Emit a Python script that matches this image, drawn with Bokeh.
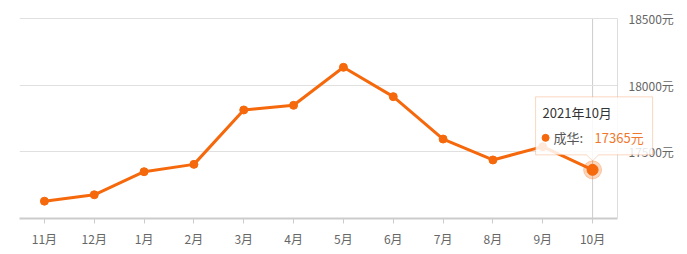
from bokeh.plotting import figure
from bokeh.models import Range1d, FixedTicker, Span, Label, PolyAnnotation, CustomJSTickFormatter
from bokeh.embed import file_html
from bokeh.resources import INLINE

# ---- data ----
months = ["11月", "12月", "1月", "2月", "3月", "4月", "5月", "6月", "7月", "8月", "9月", "10月"]
prices = [17130, 17178, 17351, 17406, 17814, 17849, 18134, 17914, 17596, 17439, 17539, 17365]
y_ticks = [17000, 17500, 18000, 18500]
series_name = "成华"
tooltip_title = "2021年10月"
unit = "元"

# ---- style ----
W, H = 687, 254
L, B = 19, 36
PLOT_RIGHT = 617          # pixel where the category band ends (right axis line)
PLOT_TOP = 18             # pixel of the top gridline
ORANGE = "#f5690c"
FONT = "Noto Sans CJK SC"
Y0, Y1 = y_ticks[0], y_ticks[-1]

n = len(months)
FW = W - L
FH = H - B                 # frame spans from the top of the canvas
band_h = FH - PLOT_TOP
cw = (PLOT_RIGHT - L) / n
xs = [i + 0.5 for i in range(n)]
y_top = Y1 + PLOT_TOP * (Y1 - Y0) / band_h

p = figure(x_range=Range1d(0, FW / cw), y_range=Range1d(Y0, y_top),
           width=W, height=H, output_backend="svg", toolbar_location=None,
           y_axis_location="right",
           min_border_left=L, min_border_right=0, min_border_top=0, min_border_bottom=B)
p.outline_line_color = None
p.background_fill_color = "white"
p.border_fill_color = "white"

# y axis, drawn at the right end of the category band
p.yaxis.fixed_location = n
p.yaxis.bounds = (Y0, Y1)
p.yaxis.ticker = FixedTicker(ticks=y_ticks)
p.yaxis.formatter = CustomJSTickFormatter(args=dict(mn=Y0, u=unit),
                                          code="return tick > mn ? tick.toFixed(0) + u : '';")
p.yaxis.major_tick_out = 0
p.yaxis.major_tick_in = 0
p.yaxis.minor_tick_out = 0
p.yaxis.minor_tick_in = 0
p.yaxis.axis_line_color = "#dddddd"
p.yaxis.major_label_standoff = 11
p.yaxis.major_label_text_font = FONT
p.yaxis.major_label_text_font_size = "12px"
p.yaxis.major_label_text_color = "#666666"

# x axis (categories)
p.xaxis.bounds = (0, n)
p.xaxis.ticker = FixedTicker(ticks=xs)
p.xaxis.major_label_overrides = {x: m for x, m in zip(xs, months)}
p.xaxis.minor_tick_out = 0
p.xaxis.minor_tick_in = 0
p.xaxis.axis_line_color = "#cccccc"
p.xaxis.axis_line_width = 2
p.xaxis.major_tick_out = 5
p.xaxis.major_tick_in = 0
p.xaxis.major_tick_line_color = "#cccccc"
p.xaxis.major_label_standoff = 6
p.xaxis.major_label_text_font = FONT
p.xaxis.major_label_text_font_size = "12px"
p.xaxis.major_label_text_color = "#666666"

p.xgrid.visible = False
p.ygrid.grid_line_color = "#e0e0e0"
p.ygrid.cross_bounds = (0, n)

# crosshair at last point
idx = n - 1
p.segment(x0=[xs[idx]], y0=[Y0], x1=[xs[idx]], y1=[Y1], line_color="#cccccc",
          line_width=1, level="underlay")

# series
p.line(xs, prices, line_color=ORANGE, line_width=3)
p.scatter(xs[:-1], prices[:-1], size=8, color=ORANGE)
p.scatter([xs[-1]], [prices[-1]], size=18, color=ORANGE, alpha=0.28)
p.scatter([xs[-1]], [prices[-1]], size=11, color=ORANGE)

# ---- tooltip (static) ----
def xd(px):
    return (px - L) / cw

def yd(py):
    return Y0 + (FH - py) / band_h * (Y1 - Y0)

ax = L + xs[idx] * cw
ay = FH - (prices[-1] - Y0) / (Y1 - Y0) * band_h

bl, br, bt, bb = ax - 57, ax + 60, ay - 73, ay - 15
tip = ay - 9
pts = [(bl, bt), (br, bt), (br, bb), (ax + 6, bb), (ax, tip), (ax - 6, bb), (bl, bb)]
p.add_layout(PolyAnnotation(xs=[xd(a) for a, _ in pts], ys=[yd(b) for _, b in pts],
                            fill_color="white", fill_alpha=0.85,
                            line_color="#ee7b33", line_width=1))

p.add_layout(Label(x=xd(ax - 50), y=yd(ay - 57), text=tooltip_title,
                   text_align="left", text_baseline="middle",
                   text_font=FONT, text_font_size="13px", text_color="#333333"))
p.scatter([xd(ax - 47)], [yd(ay - 32)], size=7, color=ORANGE, level="overlay")
p.add_layout(Label(x=xd(ax - 39), y=yd(ay - 32), text=f"{series_name}:",
                   text_align="left", text_baseline="middle",
                   text_font=FONT, text_font_size="13px", text_color="#555555"))
p.add_layout(Label(x=xd(ax + 2), y=yd(ay - 32), text=f"{prices[-1]}{unit}",
                   text_align="left", text_baseline="middle",
                   text_font=FONT, text_font_size="13px", text_color="#f0782d"))

open("out.html", "w").write(file_html(p, INLINE))
